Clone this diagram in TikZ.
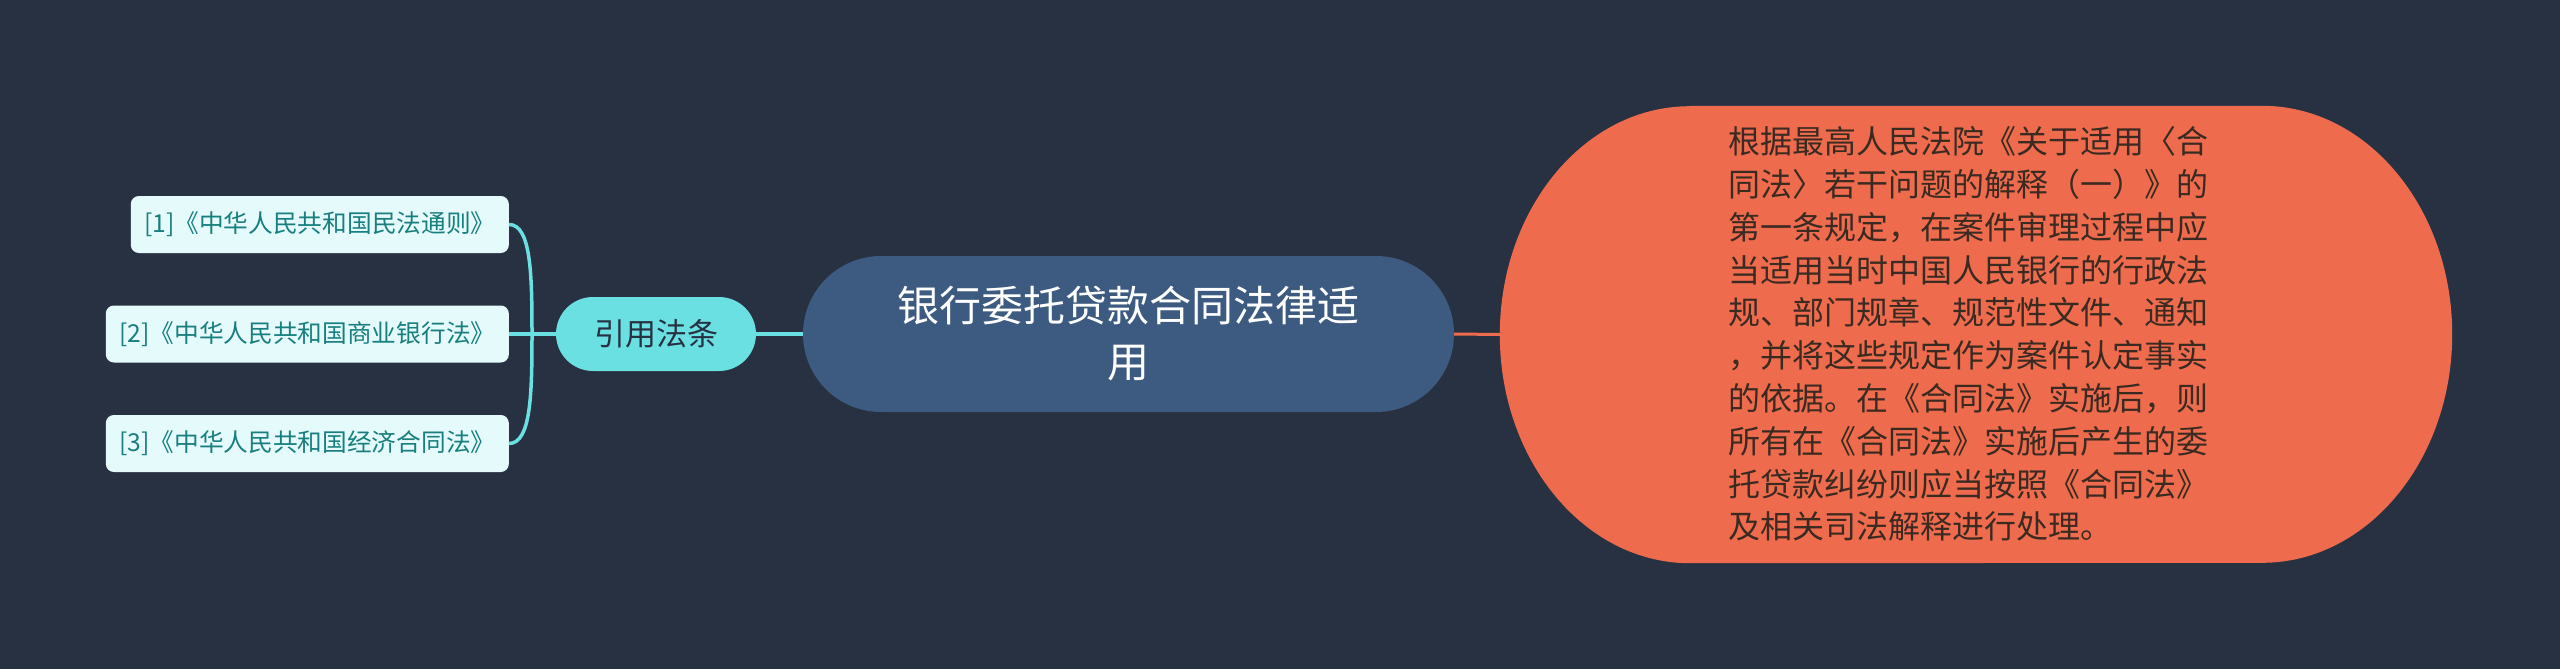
\documentclass[tikz,border=0pt]{standalone}
\usepackage{fontspec}
\setmainfont{Noto Sans CJK SC}
\definecolor{bg}{HTML}{283141}
\definecolor{rootblue}{HTML}{3D5A80}
\definecolor{orangec}{HTML}{EE6C4D}
\definecolor{cyanc}{HTML}{6AE0E3}
\definecolor{leaffill}{HTML}{E5FAFA}
\definecolor{leaftext}{HTML}{187F80}
\definecolor{detailtext}{HTML}{3A2A22}
\tikzset{
  rootbox/.style={fill=rootblue, rounded corners=78pt, minimum width=651pt, minimum height=156pt, inner sep=0pt, text=white, align=center, font=\fontsize{42}{56}\selectfont},
  citebox/.style={fill=cyanc, rounded corners=37pt, minimum width=200pt, minimum height=74pt, inner sep=0pt, text=bg, font=\fontsize{31}{37}\selectfont},
  leafbox/.style={fill=leaffill, rounded corners=8pt, minimum height=57pt, inner sep=0pt, text=leaftext, font=\fontsize{24.7}{29}\selectfont, anchor=east},
  detailbox/.style={inner sep=0pt, text=detailtext, align=left, font=\fontsize{32}{38}\selectfont},
  cyanline/.style={draw=cyanc, line width=3.5pt},
  orangeline/.style={draw=orangec, line width=3pt},
}
\newcommand\dl{\\[4.8pt]}
\begin{document}
\begin{tikzpicture}[x=1pt,y=-1pt]
\fill[bg] (0,0) rectangle (2560,669);
\useasboundingbox (0,0) rectangle (2560,669);

% nodes
\node[rootbox] (root) at (1128.5,334) {银行委托贷款合同法律适\\用};
\node[citebox] (cite) at (656,334) {引用法条};
\node[leafbox, minimum width=378pt] (l1) at (509,224.5) {[1]《中华人民共和国民法通则》};
\node[leafbox, minimum width=403pt] (l2) at (509,334) {[2]《中华人民共和国商业银行法》};
\node[leafbox, minimum width=403pt] (l3) at (509,443.5) {[3]《中华人民共和国经济合同法》};
\node[inner sep=0pt, minimum width=952pt, minimum height=457pt] (res) at (1976,334.5) {};
\fill[orangec] ([xshift=190pt]res.north west) -- ([xshift=-190pt]res.north east)
  arc[start angle=90, end angle=-90, x radius=190pt, y radius=228.5pt]
  -- ([xshift=190pt]res.south west)
  arc[start angle=270, end angle=90, x radius=190pt, y radius=228.5pt] -- cycle;
\node[detailbox] (detail) at (1968,334) {根据最高人民法院《关于适用〈合\dl 同法〉若干问题的解释（一）》的\dl 第一条规定，在案件审理过程中应\dl 当适用当时中国人民银行的行政法\dl 规、部门规章、规范性文件、通知\dl ，并将这些规定作为案件认定事实\dl 的依据。在《合同法》实施后，则\dl 所有在《合同法》实施后产生的委\dl 托贷款纠纷则应当按照《合同法》\dl 及相关司法解释进行处理。};

% connectors
\coordinate (hub) at (532,334);
\draw[orangeline] (root.east) -- (res.west);
\draw[cyanline] (root.west) -- (cite.east);
\draw[cyanline] (cite.west) -- (l2.east);
\draw[cyanline] (l1.east) .. controls +(22,0) and +(0,-60) .. (hub);
\draw[cyanline] (l3.east) .. controls +(22,0) and +(0,60) .. (hub);
\end{tikzpicture}
\end{document}
